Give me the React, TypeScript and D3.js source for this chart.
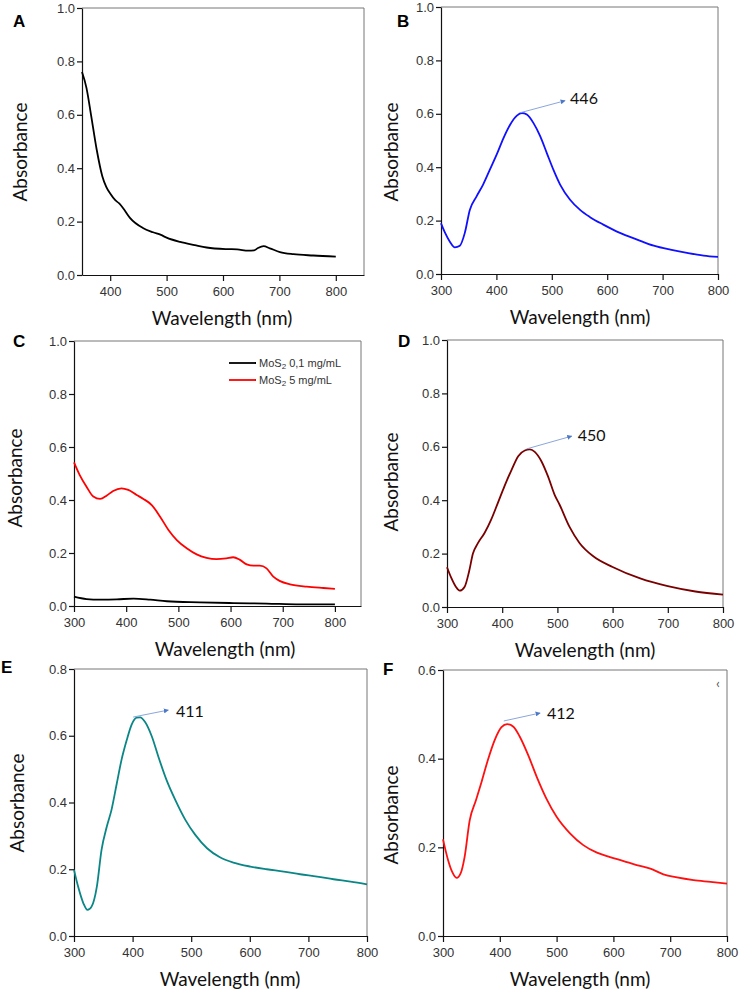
import { useEffect, useRef } from "react";
import * as d3 from "d3";

// ---- data (wavelength nm / absorbance) ----
const wlA = [350, 358, 366, 376, 386, 393, 400, 409, 416, 423, 435, 458, 476, 490, 500, 524, 550, 571, 607, 625, 645, 655, 662, 672, 683, 701, 725, 760, 800];
const absA = [0.76, 0.7, 0.6, 0.47, 0.37, 0.33, 0.305, 0.28, 0.268, 0.25, 0.214, 0.176, 0.16, 0.15, 0.14, 0.124, 0.112, 0.103, 0.097, 0.096, 0.091, 0.092, 0.101, 0.108, 0.1, 0.086, 0.078, 0.073, 0.069];

const wlB = [300, 307, 316, 325, 334, 343, 352, 364, 376, 388, 401, 413, 425, 437, 446, 455, 467, 479, 491, 503, 515, 533, 551, 569, 593, 623, 654, 684, 714, 744, 774, 800];
const absB = [0.19, 0.156, 0.121, 0.1, 0.106, 0.154, 0.24, 0.29, 0.335, 0.39, 0.45, 0.51, 0.56, 0.593, 0.603, 0.597, 0.565, 0.516, 0.453, 0.39, 0.335, 0.278, 0.24, 0.213, 0.185, 0.154, 0.129, 0.106, 0.091, 0.079, 0.069, 0.064];

const wlC5 = [300, 311, 324, 337, 350, 363, 375, 391, 404, 420, 433, 449, 465, 481, 497, 516, 535, 554, 573, 592, 605, 618, 631, 644, 656, 669, 682, 695, 714, 746, 778, 800];
const absC5 = [0.542, 0.494, 0.45, 0.413, 0.404, 0.417, 0.434, 0.444, 0.438, 0.419, 0.404, 0.381, 0.337, 0.287, 0.249, 0.218, 0.195, 0.182, 0.177, 0.18, 0.184, 0.174, 0.157, 0.152, 0.152, 0.142, 0.111, 0.094, 0.082, 0.073, 0.068, 0.065];
const wlC01 = [300, 324, 350, 382, 414, 446, 478, 541, 605, 669, 733, 800];
const absC01 = [0.035, 0.026, 0.024, 0.025, 0.028, 0.024, 0.018, 0.014, 0.011, 0.009, 0.006, 0.006];
const legendC = ["0,1 mg/mL", "5 mg/mL"];

const wlD = [300, 308, 316, 323, 332, 340, 347, 356, 368, 380, 392, 404, 417, 429, 441, 450, 459, 471, 483, 495, 504, 522, 540, 565, 600, 650, 700, 750, 800];
const absD = [0.149, 0.108, 0.076, 0.061, 0.076, 0.133, 0.2, 0.239, 0.277, 0.327, 0.389, 0.452, 0.514, 0.565, 0.586, 0.59, 0.581, 0.546, 0.489, 0.42, 0.383, 0.3, 0.24, 0.19, 0.15, 0.107, 0.078, 0.058, 0.046];

const wlE = [300, 307, 316, 323, 330, 339, 347, 356, 364, 373, 381, 390, 398, 407, 413, 421, 433, 444, 458, 473, 490, 507, 527, 549, 572, 601, 629, 658, 686, 715, 743, 772, 800];
const absE = [0.198, 0.148, 0.098, 0.078, 0.088, 0.148, 0.258, 0.328, 0.378, 0.457, 0.527, 0.587, 0.632, 0.654, 0.655, 0.642, 0.597, 0.537, 0.467, 0.407, 0.348, 0.303, 0.263, 0.236, 0.22, 0.208, 0.2, 0.193, 0.185, 0.178, 0.17, 0.163, 0.155];

const wlF = [300, 309, 316, 324, 331, 338, 347, 358, 368, 379, 391, 403, 413, 424, 435, 450, 465, 482, 500, 524, 547, 571, 594, 618, 641, 665, 688, 712, 741, 771, 800];
const absF = [0.218, 0.171, 0.145, 0.131, 0.141, 0.178, 0.261, 0.306, 0.348, 0.397, 0.442, 0.471, 0.478, 0.472, 0.45, 0.408, 0.359, 0.31, 0.269, 0.231, 0.205, 0.188, 0.178, 0.169, 0.16, 0.152, 0.139, 0.132, 0.126, 0.122, 0.118];

const ticks100 = [300, 400, 500, 600, 700, 800];
const ticksA = [400, 500, 600, 700, 800];
const yTicks1 = [0, 0.2, 0.4, 0.6, 0.8, 1.0];
const yTicks08 = [0, 0.2, 0.4, 0.6, 0.8];
const yTicks06 = [0, 0.2, 0.4, 0.6];

const TITLE_FONT = "Lato, 'Open Sans', sans-serif";
const TICK_FONT = "'Liberation Sans', Arial, sans-serif";

const panels = [
  { id: "A", box: [82, 364, 8, 275], xDomain: [350, 850], yMax: 1, xTicks: ticksA, yTicks: yTicks1,
    series: [{ x: wlA, y: absA, color: "#000000" }], label: [13, 27], xTitleX: 222, yTitle: [20, 152], note: null },
  { id: "B", box: [441, 718, 7, 274], xDomain: [300, 800], yMax: 1, xTicks: ticks100, yTicks: yTicks1,
    series: [{ x: wlB, y: absB, color: "#1010ff" }], label: [397, 27], xTitleX: 580, yTitle: [391, 152],
    note: { from: [443, 0.604], to: [524, 0.649], text: "446", at: [533, 0.657] } },
  { id: "C", box: [74, 361, 341, 606], xDomain: [300, 850], yMax: 1, xTicks: ticks100, yTicks: yTicks1,
    series: [{ x: wlC01, y: absC01, color: "#000000" }, { x: wlC5, y: absC5, color: "#ff0000" }], label: [13, 347], xTitleX: 225, yTitle: [15, 478], note: null },
  { id: "D", box: [447, 723, 340, 607], xDomain: [300, 800], yMax: 1, xTicks: ticks100, yTicks: yTicks1,
    series: [{ x: wlD, y: absD, color: "#7a0000" }], label: [398, 347], xTitleX: 585, yTitle: [391, 482],
    note: { from: [444, 0.592], to: [526, 0.64], text: "450", at: [537, 0.644] } },
  { id: "E", box: [74, 367, 669, 936], xDomain: [300, 800], yMax: 0.8, xTicks: ticks100, yTicks: yTicks08,
    series: [{ x: wlE, y: absE, color: "#0a8686" }], label: [1, 673], xTitleX: 230, yTitle: [17, 803],
    note: { from: [401, 0.656], to: [461, 0.677], text: "411", at: [474, 0.674] } },
  { id: "F", box: [443, 727, 670, 936], xDomain: [300, 800], yMax: 0.6, xTicks: ticks100, yTicks: yTicks06,
    series: [{ x: wlF, y: absF, color: "#ff1010" }], label: [383, 675], xTitleX: 580, yTitle: [391, 815],
    note: { from: [407, 0.485], to: [471, 0.503], text: "412", at: [483, 0.503] } },
];

function SpectraFigure() {
  const svgRef = useRef<SVGSVGElement>(null);

  useEffect(() => {
    const svg = d3.select(svgRef.current);
    svg.selectAll("*").remove();

    svg.append("defs").append("marker")
      .attr("id", "arrowHead")
      .attr("viewBox", "0 0 10 10")
      .attr("refX", 9).attr("refY", 5)
      .attr("markerWidth", 5).attr("markerHeight", 5)
      .attr("orient", "auto")
      .append("path").attr("d", "M0,0L10,5L0,10z").attr("fill", "#4c78c8");

    panels.forEach((p) => {
      const [left, right, top, bottom] = p.box;
      const x = d3.scaleLinear().domain(p.xDomain).range([left, right]);
      const y = d3.scaleLinear().domain([0, p.yMax]).range([bottom, top]);
      const g = svg.append("g");

      // light frame on top / right
      g.append("path")
        .attr("d", `M${left},${top}H${right}V${bottom}`)
        .attr("fill", "none").attr("stroke", "#777").attr("stroke-width", 1);

      const xAxis = g.append("g")
        .attr("transform", `translate(0,${bottom})`)
        .call(d3.axisBottom(x).tickValues(p.xTicks).tickSize(6).tickPadding(6).tickSizeOuter(0).tickFormat(d3.format("d")));
      const yAxis = g.append("g")
        .attr("transform", `translate(${left},0)`)
        .call(d3.axisLeft(y).tickValues(p.yTicks).tickSize(5).tickPadding(2).tickSizeOuter(0).tickFormat(d3.format(".1f")));
      [xAxis, yAxis].forEach((a) => {
        a.attr("font-family", TICK_FONT).attr("font-size", 13);
        a.selectAll("text").attr("fill", "#333");
        a.selectAll("line, path").attr("stroke", "#111").attr("stroke-width", 1.2);
      });

      p.series.forEach((s) => {
        const line = d3.line<number>()
          .x((d, i) => x(s.x[i]))
          .y((d) => y(d))
          .curve(d3.curveMonotoneX);
        g.append("path")
          .attr("d", line(s.y))
          .attr("fill", "none")
          .attr("stroke", s.color)
          .attr("stroke-width", 1.8);
      });

      if (p.note) {
        g.append("line")
          .attr("x1", x(p.note.from[0])).attr("y1", y(p.note.from[1]))
          .attr("x2", x(p.note.to[0])).attr("y2", y(p.note.to[1]))
          .attr("stroke", "#8aa6dc").attr("stroke-width", 1)
          .attr("marker-end", "url(#arrowHead)");
        g.append("text")
          .attr("x", x(p.note.at[0])).attr("y", y(p.note.at[1]))
          .attr("dy", "0.35em")
          .attr("font-family", TITLE_FONT).attr("font-size", 16).attr("fill", "#111")
          .text(p.note.text);
      }

      if (p.id === "C") {
        const lg = g.append("g").attr("font-family", TICK_FONT).attr("font-size", 11).attr("fill", "#333");
        legendC.forEach((lab, i) => {
          const ly = 363 + i * 17;
          lg.append("line").attr("x1", 229).attr("x2", 256).attr("y1", ly).attr("y2", ly)
            .attr("stroke", p.series[i].color).attr("stroke-width", 1.8);
          const t = lg.append("text").attr("x", 259).attr("y", ly).attr("dy", "0.35em");
          t.append("tspan").text("MoS");
          t.append("tspan").attr("font-size", 8).attr("dy", "0.3em").text("2");
          t.append("tspan").attr("dy", "-0.25em").text(" " + lab);
        });
      }

      if (p.id === "F") {
        g.append("text").attr("x", 716).attr("y", 683).attr("dy", "0.35em")
          .attr("font-family", TITLE_FONT).attr("font-size", 14).attr("fill", "#555").text("‹");
      }

      g.append("text")
        .attr("x", p.label[0]).attr("y", p.label[1])
        .attr("font-family", TICK_FONT).attr("font-weight", "bold").attr("font-size", 17).attr("fill", "#000")
        .text(p.id);

      g.append("text")
        .attr("x", p.xTitleX).attr("y", bottom + 50)
        .attr("text-anchor", "middle")
        .attr("font-family", TITLE_FONT).attr("font-size", 19).attr("fill", "#111")
        .text("Wavelength (nm)");

      g.append("text")
        .attr("transform", `translate(${p.yTitle[0]},${p.yTitle[1]}) rotate(-90)`)
        .attr("text-anchor", "middle").attr("dy", "0.35em")
        .attr("font-family", TITLE_FONT).attr("font-size", 19).attr("fill", "#111")
        .text("Absorbance");
    });
  }, []);

  return (
    <svg
      ref={svgRef}
      width={740}
      height={992}
      style={{ position: "absolute", left: 0, top: 0, background: "#fff" }}
    />
  );
}

export default function App() {
  return <SpectraFigure />;
}
